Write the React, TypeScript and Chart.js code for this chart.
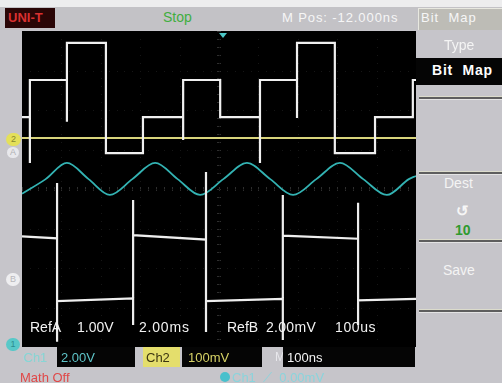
import { useEffect, useRef } from 'react';
import { Chart, registerables } from 'chart.js';

Chart.register(...registerables);

// ---- Data (in screen divisions: x 0..10, y -4..4) ----
// RefA: staircase trace
const stairStart = 1.82;
const stairEdgeTimes = [0.2, 1.14, 2.13, 3.07, 4.09, 5.03, 6.04, 6.98, 7.94, 8.96, 9.92];
const stairLevels = [2.76, 3.7, 0.91, 1.82, 2.76, 1.82, 2.76, 3.7, 0.91, 1.82, 2.76];
const stairGlitches: (number | null)[] = [0.66, 1.7, null, null, 1.24, null, 0.66, 1.8, null, null, null];

// RefB: square wave with edge spikes
const sqEdgeTimes = [0.89, 2.82, 4.67, 6.62, 8.53];
const sqSegStart = [-1.2, -2.84, -1.17, -2.84, -1.18, -2.82];
const sqSegEnd = [-1.25, -2.77, -1.28, -2.78, -1.26, -2.78];
const sqSpikeTop = [0.15, -0.28, 0.43, -0.15, -0.35];
const sqSpikeBottom = [-3.87, -3.44, -3.62, -3.82, -3.44];

// Ch2: flat yellow trace
const ch2Times = [0, 10];
const ch2Values = [1.29, 1.29];

// Ch1: cyan sine-like trace (read at peaks, troughs and mid crossings)
const ch1Times = [0, 0.6, 1.14, 1.69, 2.23, 2.8, 3.38, 3.95, 4.52, 5.11, 5.71, 6.3, 6.88, 7.47, 8.07, 8.66, 9.26, 9.82, 10];
const ch1Values = [-0.12, 0.25, 0.66, 0.25, -0.15, 0.25, 0.66, 0.25, -0.15, 0.25, 0.66, 0.25, -0.15, 0.25, 0.66, 0.25, -0.15, 0.25, 0.33];

function buildStair() {
  const pts: { x: number; y: number }[] = [{ x: 0, y: stairStart }];
  let prev = stairStart;
  stairEdgeTimes.forEach((t, i) => {
    pts.push({ x: t, y: prev });
    const g = stairGlitches[i];
    if (g !== null) pts.push({ x: t, y: g });
    pts.push({ x: t, y: stairLevels[i] });
    prev = stairLevels[i];
  });
  pts.push({ x: 10, y: prev });
  return pts;
}

function buildSquare() {
  const pts: { x: number; y: number }[] = [{ x: 0, y: sqSegStart[0] }];
  sqEdgeTimes.forEach((t, i) => {
    pts.push({ x: t, y: sqSegEnd[i] });
    const falling = sqSegStart[i] > sqSegStart[i + 1];
    if (falling) {
      pts.push({ x: t, y: sqSpikeTop[i] });
      pts.push({ x: t, y: sqSpikeBottom[i] });
    } else {
      pts.push({ x: t, y: sqSpikeBottom[i] });
      pts.push({ x: t, y: sqSpikeTop[i] });
    }
    pts.push({ x: t, y: sqSegStart[i + 1] });
  });
  pts.push({ x: 10, y: sqSegEnd[sqSegEnd.length - 1] });
  return pts;
}

const zip = (xs: number[], ys: number[]) => xs.map((x, i) => ({ x, y: ys[i] }));

const scopeGrid = {
  id: 'scopeGrid',
  beforeDatasetsDraw(chart: any) {
    const { ctx, scales } = chart;
    const xs = scales.x;
    const ys = scales.y;
    ctx.save();
    ctx.fillStyle = '#2e2e2e';
    const cy = ys.getPixelForValue(0);
    const cx = xs.getPixelForValue(5);
    for (let t = 0; t <= 50; t++) {
      const px = xs.getPixelForValue(t / 5);
      ctx.fillRect(Math.round(px), Math.round(cy) - 2, 1, 4);
    }
    for (let t = 0; t <= 40; t++) {
      const py = ys.getPixelForValue(-4 + t / 5);
      ctx.fillRect(Math.round(cx) - 2, Math.round(py), 4, 1);
    }
    ctx.fillStyle = '#161616';
    for (let i = 1; i < 10; i++) {
      const px = xs.getPixelForValue(i);
      for (let j = 1; j < 40; j++) {
        const py = ys.getPixelForValue(-4 + j / 5);
        ctx.fillRect(Math.round(px), Math.round(py), 1, 1);
      }
    }
    for (let j = 1; j < 8; j++) {
      const py = ys.getPixelForValue(-4 + j);
      for (let i = 1; i < 50; i++) {
        const px = xs.getPixelForValue(i / 5);
        ctx.fillRect(Math.round(px), Math.round(py), 1, 1);
      }
    }
    ctx.restore();
  },
};

const FONT = '"Liberation Sans", Arial, sans-serif';

function T(props: { x: number; y: number; s?: number; c?: string; w?: number | string; ls?: number; children: any }) {
  const s = props.s ?? 13;
  return (
    <div
      style={{
        position: 'absolute',
        left: props.x,
        top: props.y,
        fontSize: s,
        lineHeight: `${s}px`,
        color: props.c ?? '#f4f4f4',
        fontWeight: props.w ?? 'normal',
        letterSpacing: props.ls ?? 0,
        whiteSpace: 'pre',
      }}
    >
      {props.children}
    </div>
  );
}

function Box(props: { x: number; y: number; w: number; h: number; bg: string; style?: any }) {
  return (
    <div
      style={{
        position: 'absolute',
        left: props.x,
        top: props.y,
        width: props.w,
        height: props.h,
        background: props.bg,
        ...(props.style || {}),
      }}
    />
  );
}

export default function App() {
  const ref = useRef<HTMLCanvasElement>(null);

  useEffect(() => {
    document.body.style.margin = '0';
    const chart = new Chart(ref.current!, {
      type: 'line',
      data: {
        datasets: [
          { label: 'RefA', data: buildStair(), borderColor: '#f0f0f0', borderWidth: 2.2, pointRadius: 0, tension: 0 },
          { label: 'RefB', data: buildSquare(), borderColor: '#eeeeee', borderWidth: 2.2, pointRadius: 0, tension: 0 },
          { label: 'Ch2', data: zip(ch2Times, ch2Values), borderColor: '#d8d47c', borderWidth: 2, pointRadius: 0 },
          {
            label: 'Ch1',
            data: zip(ch1Times, ch1Values),
            borderColor: '#33b3b3',
            borderWidth: 1.8,
            pointRadius: 0,
            cubicInterpolationMode: 'monotone',
          },
        ],
      },
      options: {
        animation: false,
        responsive: false,
        events: [],
        layout: { padding: 0 },
        plugins: { legend: { display: false }, tooltip: { enabled: false }, title: { display: false } },
        scales: {
          x: { type: 'linear', min: 0, max: 10, display: false },
          y: { type: 'linear', min: -4, max: 4, display: false },
        },
      },
      plugins: [scopeGrid],
    } as any);
    return () => chart.destroy();
  }, []);

  const sep = (y: number) => (
    <>
      <Box x={419} y={y - 1} w={83} h={1} bg="#dcdccc" />
      <Box x={419} y={y} w={83} h={2} bg="#5e5e5e" />
      <Box x={419} y={y + 2} w={83} h={1} bg="#e4e4e4" />
    </>
  );

  return (
    <div
      style={{
        position: 'absolute',
        left: 0,
        top: 0,
        width: 502,
        height: 383,
        overflow: 'hidden',
        background: '#c6c5ca',
        fontFamily: FONT,
      }}
    >
      {/* top strip */}
      <Box x={0} y={0} w={502} h={7} bg="#ededee" />
      <Box x={0} y={7} w={502} h={23} bg="#c3c2c6" />
      <Box x={5} y={8} w={50} h={20} bg="#2a0606" />
      <T x={8} y={11} s={13} c="#d83030" w="bold">UNI-T</T>
      <T x={163} y={10} s={14} c="#3fae3f">Stop</T>
      <T x={282} y={11} s={13} c="#f6f6f6" ls={0.9}>M Pos: -12.000ns</T>
      <Box x={418} y={8} w={84} h={22} bg="#bdbcb6" style={{ borderLeft: '1px solid #e8e8e0', borderTop: '1px solid #e8e8e0', boxSizing: 'border-box' }} />
      <T x={421} y={11} s={13} c="#f6f6f6" ls={1}>Bit  Map</T>

      {/* screen */}
      <div style={{ position: 'absolute', left: 22, top: 31, width: 394, height: 316, background: '#000' }}>
        <canvas ref={ref} width={394} height={316} style={{ display: 'block' }} />
      </div>
      {/* trigger marker */}
      <div
        style={{
          position: 'absolute',
          left: 219,
          top: 33,
          width: 0,
          height: 0,
          borderLeft: '4px solid transparent',
          borderRight: '4px solid transparent',
          borderTop: '5px solid #4cc6c6',
        }}
      />

      {/* ref labels inside screen */}
      <T x={30} y={320} s={14} c="#f2f2f2">RefA</T>
      <T x={77} y={320} s={14} c="#f2f2f2">1.00V</T>
      <T x={139} y={320} s={14} c="#f2f2f2" ls={0.8}>2.00ms</T>
      <T x={227} y={320} s={14} c="#f2f2f2">RefB</T>
      <T x={266} y={320} s={14} c="#f2f2f2" ls={0.3}>2.00mV</T>
      <T x={335} y={320} s={14} c="#f2f2f2" ls={0.6}>100us</T>

      {/* left markers */}
      <div style={{ position: 'absolute', left: 6, top: 133, width: 15, height: 13, borderRadius: 7, background: '#e4e05a', fontSize: 9, lineHeight: '13px', textAlign: 'center', color: '#888830' }}>2</div>
      <div style={{ position: 'absolute', left: 7, top: 147, width: 12, height: 11, borderRadius: 6, background: '#e8e8ec', fontSize: 9, lineHeight: '11px', textAlign: 'center', color: '#b0b0b4' }}>A</div>
      <div style={{ position: 'absolute', left: 6, top: 273, width: 14, height: 13, borderRadius: 7, background: '#eeeef0', fontSize: 9, lineHeight: '13px', textAlign: 'center', color: '#b8b8bc' }}>B</div>
      <div style={{ position: 'absolute', left: 6, top: 338, width: 14, height: 13, borderRadius: 7, background: '#58c8c8', fontSize: 9, lineHeight: '13px', textAlign: 'center', color: '#2c8c90' }}>1</div>

      {/* right menu */}
      <T x={444} y={38} s={14} c="#f4f4f4">Type</T>
      <Box x={416} y={58} w={86} h={27} bg="#050505" />
      <T x={432} y={63} s={14} c="#ffffff" w="bold" ls={0.8}>Bit  Map</T>
      {sep(97)}
      {sep(172)}
      <T x={444} y={176} s={14} c="#f4f4f4">Dest</T>
      <T x={456} y={203} s={15} c="#f6f6f6" w="bold">↺</T>
      <T x={455} y={223} s={14} c="#2f9a2f" w="bold">10</T>
      {sep(240)}
      <T x={443} y={263} s={14} c="#f4f4f4">Save</T>
      {sep(310)}

      {/* bottom status bar */}
      <T x={23} y={351} s={13} c="#86d6d6">Ch1</T>
      <Box x={57} y={347} w={78} h={20} bg="#050505" />
      <T x={61} y={351} s={13} c="#5ec4c8">2.00V</T>
      <Box x={143} y={347} w={37} h={20} bg="#e4de6c" />
      <T x={146} y={351} s={13} c="#3a3410">Ch2</T>
      <Box x={182} y={347} w={80} h={20} bg="#050505" />
      <T x={188} y={351} s={13} c="#d6d266">100mV</T>
      <T x={275} y={351} s={12} c="#e8e8ec">M</T>
      <Box x={283} y={347} w={132} h={20} bg="#050505" />
      <T x={287} y={351} s={13} c="#f4f4f4">100ns</T>

      <T x={20} y={371} s={13} c="#e04848">Math Off</T>
      <div style={{ position: 'absolute', left: 220, top: 372, width: 10, height: 10, borderRadius: 5, background: '#48c0cc' }} />
      <T x={232} y={371} s={13} c="#8ad4dc">Ch1  ⟋  0.00mV</T>
    </div>
  );
}
